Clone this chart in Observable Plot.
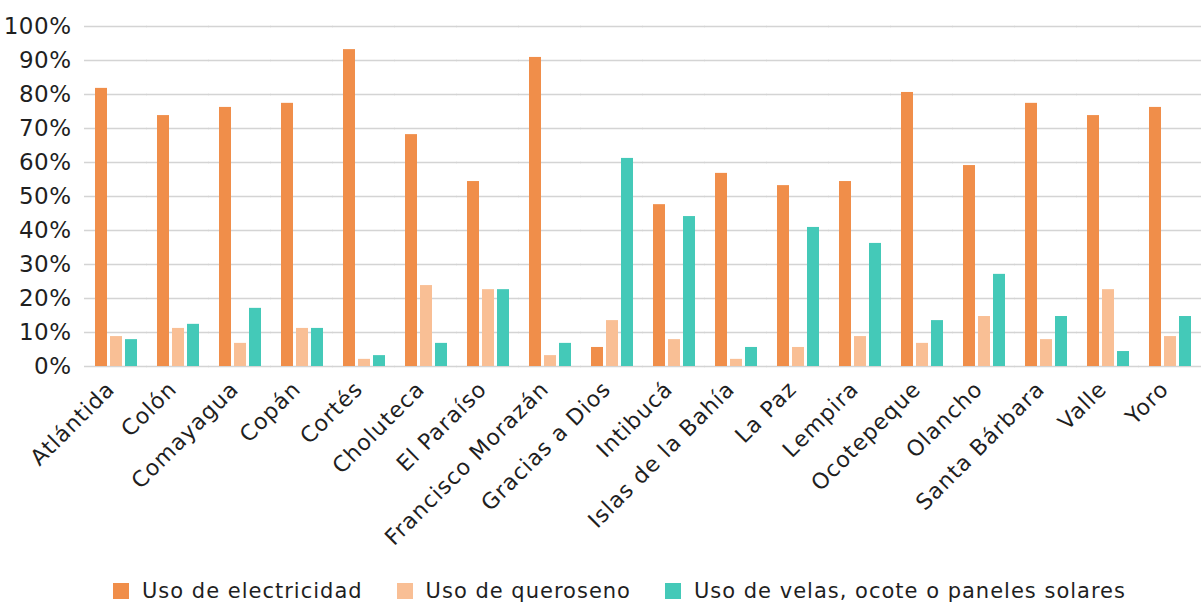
<!DOCTYPE html>
<html>
<head>
<meta charset="utf-8">
<script src="https://cdn.jsdelivr.net/npm/d3@7"></script>
<script src="https://cdn.jsdelivr.net/npm/@observablehq/plot@0.6"></script>
<style>
  html, body { margin: 0; padding: 0; background: #fff; }
  body { width: 1201px; height: 606px; overflow: hidden; font-family: "DejaVu Sans", sans-serif; }
  #chart svg { display: block; }
  #legend { display: flex; align-items: center; height: 50px; padding-left: 113px; font-size: 21px; letter-spacing: 1px; color: #1f1f1f; }
  .item { display: flex; align-items: center; margin-right: 34px; }
  .sw { width: 16px; height: 16px; margin-right: 13px; }
  .fxaxis text { letter-spacing: 1px; }
  .yaxis text { letter-spacing: 0.5px; }
</style>
</head>
<body>
<div id="chart"></div>
<div id="legend"></div>
<script>
const categories = ["Atlántida","Colón","Comayagua","Copán","Cortés","Choluteca","El Paraíso","Francisco Morazán","Gracias a Dios","Intibucá","Islas de la Bahía","La Paz","Lempira","Ocotepeque","Olancho","Santa Bárbara","Valle","Yoro"];
const series = ["Uso de electricidad","Uso de queroseno","Uso de velas, ocote o paneles solares"];
const electricidad = [81.8,73.8,76.2,77.4,93.2,68.2,54.4,90.9,5.6,47.6,56.8,53.2,54.4,80.6,59.1,77.4,73.8,76.2];
const queroseno   = [8.8,11.2,6.8,11.2,2.1,23.8,22.6,3.2,13.5,7.9,2.1,5.6,8.8,6.8,14.7,7.9,22.6,8.8];
const velas       = [7.9,12.4,17.1,11.2,3.2,6.8,22.6,6.8,61.2,44.1,5.6,40.9,36.2,13.5,27.1,14.7,4.4,14.7];
const yTicks = [0,10,20,30,40,50,60,70,80,90,100];
const colors = ["#F08E4A","#F9BF95","#44C9B8"];

const valuesBySeries = [electricidad, queroseno, velas];
const data = categories.flatMap((c, i) => series.map((s, j) => ({cat: c, serie: s, v: valuesBySeries[j][i]})));

const chart = Plot.plot({
  width: 1201,
  height: 566,
  marginLeft: 84,
  marginRight: 0,
  marginTop: 26,
  marginBottom: 200,
  style: {fontFamily: "'DejaVu Sans', sans-serif", fontSize: "21px", color: "#1f1f1f", background: "#fff"},
  fx: {domain: categories, paddingInner: 0.307, paddingOuter: 0.1535, label: null},
  x: {domain: series, paddingInner: 0.226, paddingOuter: 0, axis: null},
  y: {domain: [0, 100], label: null},
  color: {domain: series, range: colors},
  marks: [
    Plot.ruleY(yTicks, {y: d => d, stroke: "#d4d4d4", strokeWidth: 1.4, insetLeft: -10, insetRight: -10}),
    Plot.barY(data, {fx: "cat", x: "serie", y: "v", fill: "serie"}),
    Plot.axisY({ticks: yTicks, tickSize: 0, tickPadding: 23, tickFormat: d => d + "%", label: null, fontSize: 23, className: "yaxis"}),
    Plot.axisFx({anchor: "bottom", tickRotate: -45, tickSize: 0, tickPadding: 19, dx: -5, label: null, fontSize: 22, className: "fxaxis"})
  ]
});
document.getElementById("chart").appendChild(chart);

const legend = document.getElementById("legend");
series.forEach((s, i) => {
  const item = document.createElement("div");
  item.className = "item";
  const sw = document.createElement("div");
  sw.className = "sw";
  sw.style.background = colors[i];
  const t = document.createElement("span");
  t.textContent = s;
  item.appendChild(sw);
  item.appendChild(t);
  legend.appendChild(item);
});
</script>
</body>
</html>
